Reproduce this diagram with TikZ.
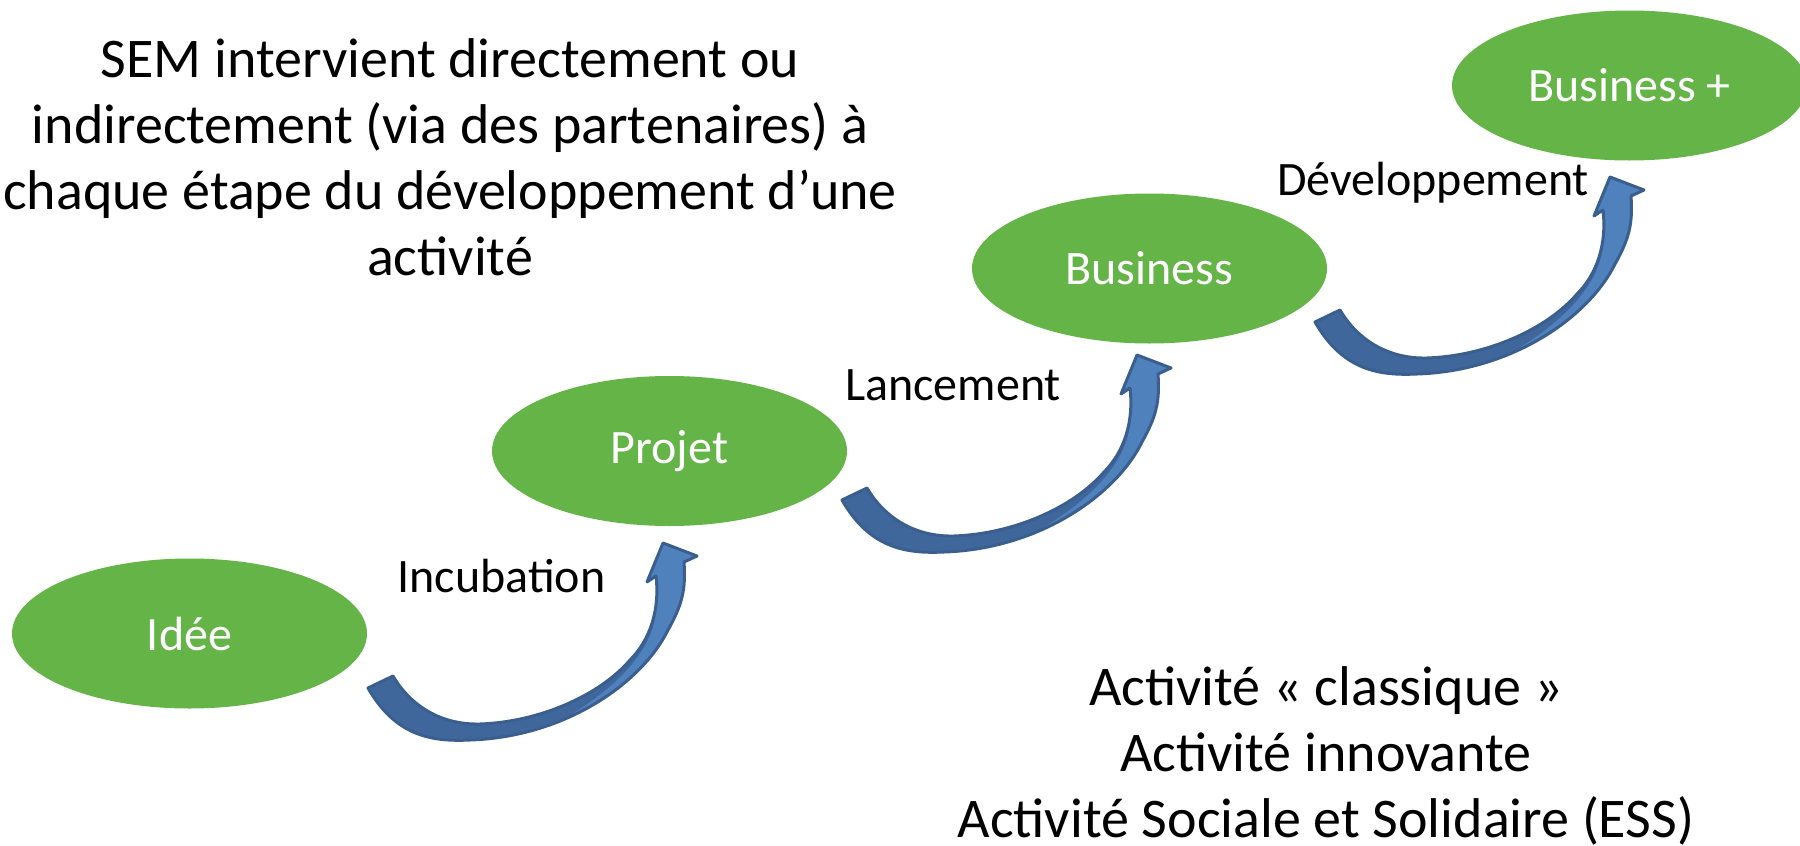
\documentclass[tikz,border=0pt]{standalone}
\usepackage{fontspec}
\setmainfont{Carlito}
\usetikzlibrary{shapes.geometric}
\definecolor{ellgreen}{HTML}{64B447}
\definecolor{arrdark}{HTML}{40679B}
\definecolor{arrlight}{HTML}{4F81BD}
\definecolor{arrline}{HTML}{3A5F8F}
\def\arrowoutline{(368,688) .. controls (395,735) and (430,742) .. (470,740)
  .. controls (565,737) and (642,683) .. (668,630)
  .. controls (682,605) and (686,590) .. (684,562)
  -- (697,556) -- (663,543) -- (647,582) -- (656,576)
  .. controls (660,610) and (650,640) .. (630,660)
  .. controls (600,695) and (540,722) .. (480,724)
  .. controls (440,725) and (410,705) .. (393,676) -- cycle}
\begin{document}
\begin{tikzpicture}[x=0.5pt,y=-0.5pt,
  stage/.style={ellipse, fill=ellgreen, minimum width=177.5pt, minimum height=75pt,
    inner sep=0pt, text=white, font=\fontsize{24pt}{29pt}\selectfont},
  steplabel/.style={font=\fontsize{24pt}{29pt}\selectfont, anchor=base},
  bigtext/.style={font=\fontsize{28pt}{33pt}\selectfont, align=center},
  stairarrow/.pic={
    \fill[arrdark] \arrowoutline;
    \begin{scope}
      \clip \arrowoutline;
      \fill[arrlight] (640,520) -- (656,600) .. controls (660,650) and (610,700) .. (520,742)
        -- (720,770) -- (720,520) -- cycle;
    \end{scope}
    \draw[arrline, line width=1.5pt, line join=round] \arrowoutline;
  }]
\useasboundingbox (0,0) rectangle (1800,846);
\fill[white] (0,0) rectangle (1800,846);

\node[stage] (idee) at (189.5,633.5) {Idée};
\node[stage] (projet) at (669.5,451) {Projet};
\node[stage] (business) at (1149.5,268.5) {Business};
\node[stage] (businessplus) at (1629.5,85.5) {Business +};

\pic at (0,0) {stairarrow};
\pic at (474,-188) {stairarrow};
\pic at (947,-366) {stairarrow};

\node[steplabel] (incub) at (501.5,592) {Incubation};
\node[steplabel] (lanc) at (953,400) {Lancement};
\node[steplabel] (dev) at (1433,195) {Développement};

\node[bigtext, anchor=base] (intro) at (450,275) {SEM intervient directement ou\\indirectement (via des partenaires) à\\chaque étape du développement d’une\\activité};
\node[bigtext, anchor=base] (types) at (1326,837) {Activité « classique »\\Activité innovante\\Activité Sociale et Solidaire (ESS)};
\end{tikzpicture}
\end{document}
